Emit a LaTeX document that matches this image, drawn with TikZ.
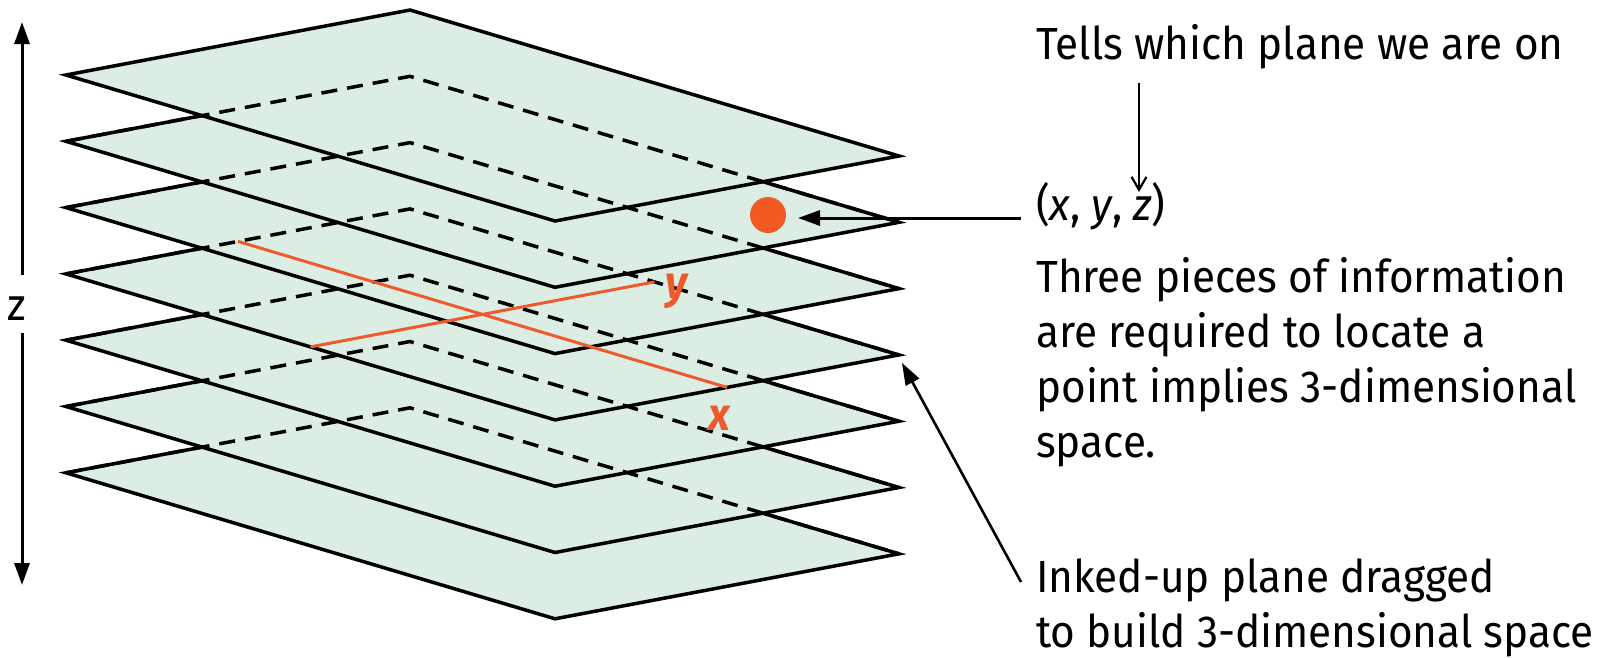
\documentclass[tikz,border=0pt]{standalone}
\usepackage{fontspec}
\setmainfont[FakeStretch=0.94]{Fira Sans}
\usetikzlibrary{arrows.meta,calc}
\definecolor{planegreen}{HTML}{DCEDE4}
\definecolor{inkred}{HTML}{EE5A2C}
\definecolor{dotred}{HTML}{F15A22}
\begin{document}
\begin{tikzpicture}[x=1pt,y=-1pt,
  plane/.style={fill=planegreen,draw=black,line width=3.5pt,line join=miter},
  hidden/.style={draw=black,line width=3.5pt,dash pattern=on 16pt off 10pt,line join=miter},
  redline/.style={draw=inkred,line width=3pt},
  redlabel/.style={text=inkred,inner sep=0pt,anchor=base west,font=\fontsize{46}{50}\selectfont\bfseries\itshape},
  txt/.style={inner sep=0pt,anchor=base west,align=left,font=\fontsize{45}{54.7}\selectfont},
  filledarrow/.style={line width=3pt,-{Triangle[length=22pt,width=15pt]}},
  openarrow/.style={line width=2.2pt,-{Straight Barb[length=13pt,width=15pt]}}]
\useasboundingbox (0,0) rectangle (1606,657);
% planes, bottom to top
\foreach \k in {6,5,4,3,2,1,0}{
  \pgfmathsetmacro\dy{66.3*\k}
  \coordinate (L\k) at (66,{75+\dy});
  \coordinate (B\k) at (410,{10+\dy});
  \coordinate (R\k) at (899,{156+\dy});
  \coordinate (F\k) at (555,{221+\dy});
  \path[plane] (L\k) -- (B\k) -- (R\k) -- (F\k) -- cycle;
}
% hidden edges
\foreach \k in {1,2,3,4,5,6}{
  \draw[hidden] (L\k) -- (B\k) -- (R\k);
}
% red cross on plane 3
\coordinate (xs) at ($(L3)!0.5!(B3)$);
\coordinate (xe) at ($(F3)!0.5!(R3)$);
\coordinate (ys) at ($(L3)!0.5!(F3)$);
\coordinate (ye) at ($(B3)!0.5!(R3)$);
\draw[redline] (xs) -- (xe);
\draw[redline] (ys) -- (ye);
\node[redlabel] (ylab) at (665,298) {y};
\node[redlabel] (xlab) at (708,430) {x};
% point
\node[circle,fill=dotred,minimum size=36pt,inner sep=0pt] (pt) at (768,215) {};
% z axis
\node[txt,anchor=base] (zlab) at (17,320) {z};
\coordinate (zt1) at (22,275);
\coordinate (zt2) at (22,22);
\coordinate (zb1) at (22,333);
\coordinate (zb2) at (22,585);
\draw[filledarrow] (zt1) -- (zt2);
\draw[filledarrow] (zb1) -- (zb2);
% texts (multi-line nodes: base = last line)
\node[txt] (tells) at (1036,59) {Tells which plane we are on};
\node[txt] (xyz) at (1036,220) {(\textit{x}, \textit{y}, \textit{z})};
\node[txt] (three) at (1036,457) {Three pieces of information\\are required to locate a\\point implies 3-dimensional\\space.};
\node[txt] (inked) at (1036,647) {Inked-up plane dragged\\to build 3-dimensional space};
% connectors
\coordinate (t1) at (1139,83);
\coordinate (t2) at (1139,192);
\draw[openarrow] (t1) -- (t2);
\coordinate (a1) at (1021,218);
\coordinate (a2) at (798,218);
\draw[filledarrow] (a1) -- (a2);
\coordinate (i1) at (1021,582);
\coordinate (i2) at ($(R3)+(3,8)$);
\draw[filledarrow,line width=2.6pt] (i1) -- (i2);
\end{tikzpicture}
\end{document}
